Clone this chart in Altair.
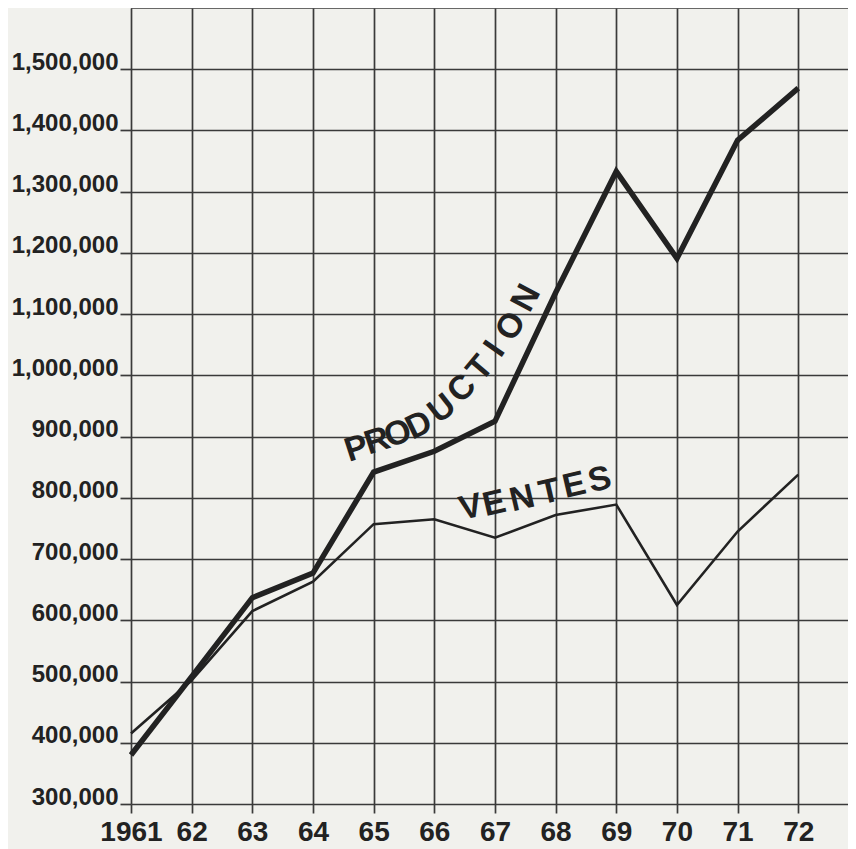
import altair as alt
import pandas as pd

# ---- data ----
years = list(range(1961, 1973))
production = [380000, 508000, 637000, 677000, 842000, 876000, 925000,
              1135000, 1333000, 1191000, 1384000, 1469000]
ventes = [415000, 502000, 615000, 663000, 757000, 765000, 735000,
          772000, 789000, 625000, 745000, 838000]

y_label_ticks = list(range(300000, 1500001, 100000))
y_top = 1600000
x_end = 1972.82

# curved annotation letters (positions in data units: year, units)
prod_letters = list("PRODUCTION")
prod_x = [1964.72, 1965.06, 1965.40, 1965.75, 1966.13, 1966.46, 1966.76, 1967.00, 1967.27, 1967.52]
prod_y = [880000, 892000, 904000, 918000, 945000, 978000, 1011000, 1043000, 1080000, 1126000]
prod_angle = [342, 342, 340, 334, 322, 315, 310, 305, 302, 298]

vent_letters = list("VENTES")
vent_x = [1966.60, 1966.99, 1967.45, 1967.90, 1968.31, 1968.73]
vent_y = [784000, 790000, 798000, 809000, 820000, 829000]
vent_angle = [347, 347, 347, 347, 347, 347]

# ---- tables ----
df = pd.DataFrame({"year": years, "Production": production, "Ventes": ventes})
df_prod = pd.DataFrame({"t": prod_letters, "x": prod_x, "y": prod_y, "a": prod_angle})
df_vent = pd.DataFrame({"t": vent_letters, "x": vent_x, "y": vent_y, "a": vent_angle})

ink = "#222222"
grid_ink = "#3a3a3a"
num_font = "Liberation Sans"
txt_font = "Liberation Sans"

x_scale = alt.Scale(domain=[1961, x_end], nice=False, zero=False)
y_scale = alt.Scale(domain=[300000, y_top], nice=False, zero=False)

x_axis = alt.Axis(
    values=years, grid=True, gridColor=grid_ink, gridWidth=1.7, gridOpacity=1,
    domain=False, ticks=True, tickSize=9, tickColor=grid_ink, tickWidth=1.7,
    labelExpr="datum.value == 1961 ? '1961' : substring(toString(datum.value), 2, 4)",
    labelFont=num_font, labelFontSize=28, labelFontWeight="bold", labelColor=ink,
    labelPadding=5, labelFlush=False, labelOverlap=False, title=None,
)
y_axis = alt.Axis(
    values=y_label_ticks, grid=True, gridColor=grid_ink, gridWidth=1.7, gridOpacity=1,
    domain=False, ticks=True, tickSize=11, tickColor=grid_ink, tickWidth=1.7,
    format=",d", labelFont=num_font, labelFontSize=24, labelFontWeight="bold",
    labelColor=ink, labelPadding=2, labelBaseline="alphabetic", labelFlush=False,
    labelOverlap=False, title=None,
)

base = alt.Chart(df)

prod_line = base.mark_line(color=ink, strokeWidth=5.5, strokeJoin="miter").encode(
    x=alt.X("year:Q", scale=x_scale, axis=x_axis),
    y=alt.Y("Production:Q", scale=y_scale, axis=y_axis),
)
vent_line = base.mark_line(color=ink, strokeWidth=2.6, strokeJoin="miter").encode(
    x=alt.X("year:Q", scale=x_scale),
    y=alt.Y("Ventes:Q", scale=y_scale),
)
top_rule = alt.Chart(pd.DataFrame({"v": [y_top]})).mark_rule(
    color=grid_ink, strokeWidth=1.7
).encode(y=alt.Y("v:Q", scale=y_scale))

prod_text = alt.Chart(df_prod).mark_text(
    font=txt_font, fontWeight="bold", fontSize=34, color=ink,
    align="center", baseline="middle"
).encode(
    x=alt.X("x:Q", scale=x_scale), y=alt.Y("y:Q", scale=y_scale),
    text="t:N", angle=alt.Angle("a:Q", scale=None),
)
vent_text = alt.Chart(df_vent).mark_text(
    font=txt_font, fontWeight="bold", fontSize=34, color=ink,
    align="center", baseline="middle"
).encode(
    x=alt.X("x:Q", scale=x_scale), y=alt.Y("y:Q", scale=y_scale),
    text="t:N", angle=alt.Angle("a:Q", scale=None),
)

chart = alt.layer(top_rule, vent_line, prod_line, prod_text, vent_text).properties(
    width=717, height=796,
    autosize=alt.AutoSizeParams(type="none"),
    padding={"left": 123, "top": 0, "right": 0, "bottom": 45},
    background="#f1f1ed",
).configure_view(stroke=None)

chart.save("out.html", embed_options={"renderer": "svg", "actions": False})
